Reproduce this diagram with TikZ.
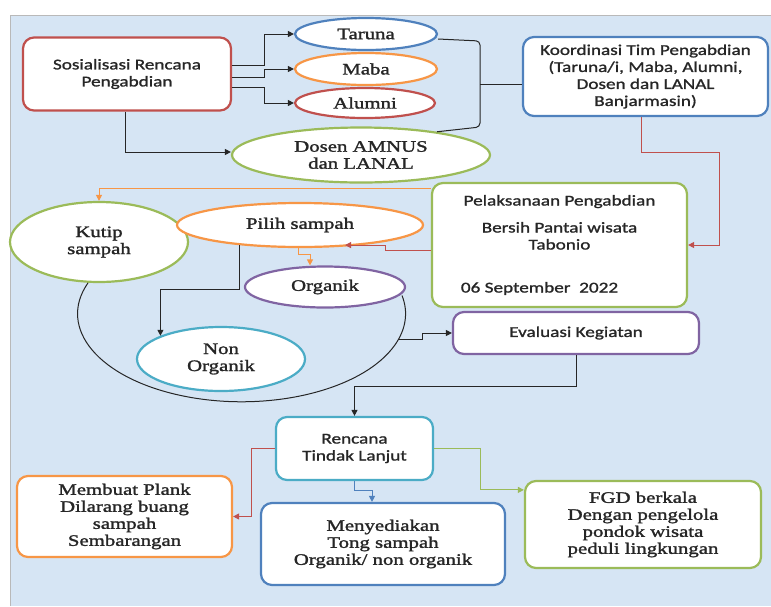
\documentclass[tikz,border=0pt]{standalone}
\usepackage{fontspec}
\setmainfont{Liberation Serif}[FakeStretch=1.3,FakeBold=1.6]
\newfontfamily\boxfont{Carlito}[FakeStretch=1.28,FakeBold=1.2]
\usetikzlibrary{shapes.geometric,arrows.meta,calc}

\definecolor{bgblue}{RGB}{214,229,244}
\definecolor{offred}{RGB}{192,80,77}
\definecolor{offblue}{RGB}{79,129,189}
\definecolor{offorange}{RGB}{247,150,70}
\definecolor{offgreen}{RGB}{155,187,89}
\definecolor{offpurple}{RGB}{128,100,162}
\definecolor{offcyan}{RGB}{75,172,198}
\definecolor{txtgray}{RGB}{38,38,38}

\tikzset{
    box/.style={draw=#1,
        line width=2.2pt,
        fill=white,
        rounded corners=11pt,
        align=center,
        inner sep=0pt,
        text=txtgray,
        font=\boxfont\fontsize{15}{17}\selectfont
    },
    sbox/.style={box=#1,
        font=\fontsize{16}{17}\selectfont
    },
    oval/.style={ellipse,
        draw=#1,
        line width=2.2pt,
        fill=white,
        align=center,
        inner sep=0pt,
        text=txtgray,
        font=\fontsize{16}{17}\selectfont
    },
    conn/.style={draw=#1,
        line width=1pt,
        -{Triangle[length=6pt,width=6pt]}
    },
    brace/.style={draw=txtgray,
        line width=1pt,
        rounded corners=4pt
    }
}

\begin{document}
\begin{tikzpicture}[x=1pt,y=-1pt]

    \useasboundingbox (0,0) rectangle (771,606);
    \fill[bgblue] (10,15) rectangle (771,606);
    \draw[gray!55, line width=1pt] (10,606) -- (10,15) -- (771,15);

    % top row
    \node[box=offred, minimum width=208pt, minimum height=73pt]
        (sos) at (127,74) {Sosialisasi Rencana\\Pengabdian};
    \node[oval=offblue, minimum width=142pt, minimum height=32pt]
        (taruna) at (366,34) {Taruna};
    \node[oval=offorange, minimum width=142pt, minimum height=32pt]
        (maba) at (366,69) {Maba};
    \node[oval=offred, minimum width=140pt, minimum height=30pt]
        (alumni) at (365,103) {Alumni};
    \node[oval=offgreen, minimum width=258pt, minimum height=55pt]
        (dosen) at (361,155) {Dosen AMNUS\\dan LANAL};
    \node[box=offblue, minimum width=245pt, minimum height=79pt]
        (koord) at (645.5,76.5)
        {Koordinasi Tim Pengabdian\\(Taruna/i, Maba, Alumni,\\Dosen dan LANAL\\Banjarmasin)};

    % middle
    \node[box=offgreen, minimum width=255pt, minimum height=124pt]
        (pelak) at (559.5,245)
        {Pelaksanaan Pengabdian\\[10pt]Bersih Pantai wisata\\Tabonio\\[26pt]\hspace*{-40pt}06 September\ \ 2022};
    \node[oval=offgreen, minimum width=178pt, minimum height=80pt]
        (kutip) at (99,242) {Kutip\\sampah};
    \node[oval=offorange, minimum width=246pt, minimum height=44pt]
        (pilih) at (300,225) {Pilih sampah};
    \node[oval=offpurple, minimum width=160pt, minimum height=41pt]
        (organik) at (325,287) {Organik};
    \node[oval=offcyan, minimum width=168pt, minimum height=64pt]
        (nonorg) at (221,359) {Non\\Organik};
    \node[box=offpurple, minimum width=246pt, minimum height=42pt]
        (eval) at (576,333) {Evaluasi Kegiatan};

    % bottom
    \node[box=offcyan, minimum width=157pt, minimum height=63pt]
        (rtl) at (354.5,448.5) {Rencana\\Tindak Lanjut};
    \node[sbox=offorange, minimum width=215pt, minimum height=81pt]
        (plank) at (124.5,516.5)
        {Membuat Plank\\Dilarang buang\\sampah\\Sembarangan};
    \node[sbox=offblue, minimum width=244pt, minimum height=82pt]
        (tong) at (383,544)
        {Menyediakan\\Tong sampah\\Organik/ non organik};
    \node[sbox=offgreen, minimum width=236pt, minimum height=87pt]
        (fgd) at (643,524.5)
        {FGD berkala\\Dengan pengelola\\pondok wisata\\peduli lingkungan};

    % connectors
    \draw[conn=txtgray] ([yshift=9pt]sos.east) -- ++(32,0) |- (taruna.west);
    \draw[conn=txtgray] ([yshift=-3pt]sos.east) -- ++(32,0) |- (maba.west);
    \draw[conn=txtgray] ([yshift=-13pt]sos.east) -- ++(32,0) |- (alumni.west);
    \draw[conn=txtgray] ([xshift=-2pt]sos.south) |- ([yshift=3pt]dosen.west);

    \coordinate (btop) at (480,41);
    \coordinate (bbot) at (480,127);
    \coordinate (bmid) at (480,84);
    \draw[brace] ([yshift=-5pt]taruna.east) -- (btop) -- (bbot) -- (dosen.17);
    \draw[brace] (bmid) -- (bmid -| koord.west);

    \draw[conn=offred] ([xshift=-4pt]koord.south) -- ++(0,35) -- ++(78,0)
        |- (pelak.east);
    \draw[conn=offorange] ([yshift=-7pt]pelak.north west) -| (kutip.north);
    \draw[conn=offred] ([yshift=-5pt]pelak.west) -- ++(-45,0)
        |- ([xshift=45pt,yshift=3pt]pilih.south);
    \draw[conn=offorange] ([xshift=-2pt]pilih.south) -- ++(0,6)
        -| ([xshift=-15pt]organik.north);
    \draw[conn=txtgray] ([xshift=-61pt,yshift=3pt]pilih.south) -- ++(0,44)
        -| (nonorg.159);

    \draw[txtgray, line width=1pt] (kutip.-105)
        arc[start angle=159.4, end angle=372, x radius=164pt, y radius=88pt];
    \path (kutip.-105)
        arc[start angle=159.4, end angle=342.8, x radius=164pt, y radius=88pt]
        coordinate (tap);
    \draw[conn=txtgray] (tap) -- ++(24,0) |- (eval.west);

    \draw[conn=txtgray] (eval.south) -- ++(0,31) -| (rtl.north);
    \draw[conn=offred] (rtl.west) -- ++(-23,0) |- (plank.east);
    \draw[conn=offblue] (rtl.south) -- ++(0,9) -| ([xshift=-11pt]tong.north);
    \draw[conn=offgreen] (rtl.east) -- ++(46,0) |- ([yshift=-10pt]fgd.north west);

\end{tikzpicture}
\end{document}
